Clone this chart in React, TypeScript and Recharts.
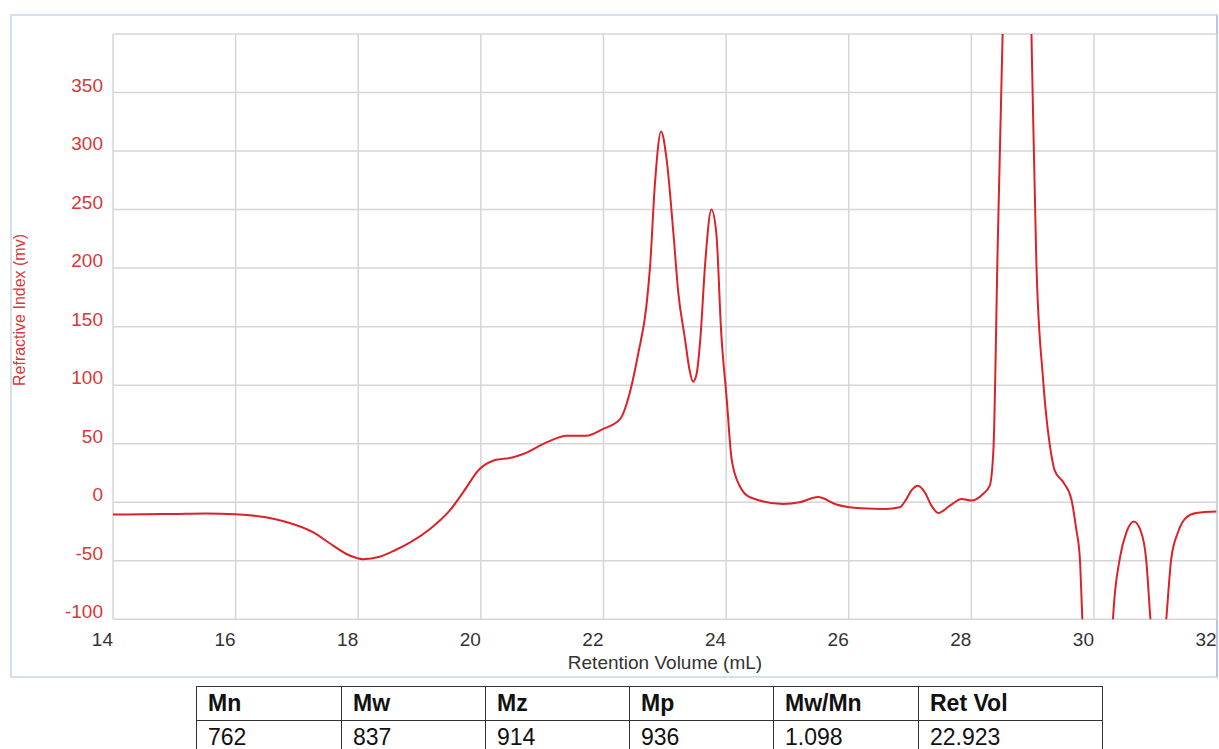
import { LineChart, Line, XAxis, YAxis, CartesianGrid } from 'recharts';

// retention volume (mL) and refractive index (mv)
const retentionVolume = [
  14.0, 14.5, 15.0, 15.5, 16.0, 16.49, 16.8, 17.26, 17.59, 17.86, 18.08, 18.35, 18.6, 18.84,
  19.17, 19.49, 19.71, 19.98, 20.2, 20.53, 20.69, 21.07, 21.4, 21.72, 21.99, 22.27, 22.43,
  22.57, 22.7, 22.76, 22.84, 22.94, 23.03, 23.14, 23.22, 23.33, 23.4, 23.46, 23.52, 23.58,
  23.66, 23.76, 23.84, 23.92, 24.01, 24.09, 24.22, 24.39, 24.93, 25.2, 25.5, 25.8, 26.2, 26.6,
  26.83, 26.94, 27.02, 27.13, 27.24, 27.35, 27.46, 27.65, 27.84, 28.0, 28.19, 28.3, 28.36,
  28.43, 28.51, 28.6, 28.75, 28.9, 28.98, 29.06, 29.17, 29.3, 29.36, 29.5, 29.63, 29.71, 29.77,
  29.81, 29.9, 30.07, 30.25, 30.31, 30.42, 30.53, 30.65, 30.77, 30.85, 30.92, 31.05, 31.18,
  31.26, 31.37, 31.51, 31.67, 32.0,
];
const refractiveIndex = [
  -10.5, -10.3, -10.0, -9.6, -10.3, -12.8, -16.5, -25.6, -37, -45.5, -48.6, -46.5, -41, -34.5,
  -22.8, -7.2, 8.5, 28.4, 35.5, 38.4, 41.2, 51.1, 56.8, 56.8, 62.5, 71, 93.8,
  127.9, 167.6, 201.7, 272.8, 316.8, 292.6, 230.1, 179, 139.2, 114, 103, 110, 140,
  205, 250, 230, 144.9, 88, 36.9, 14.1, 4.3, -1.4, 0, 4.5, -2, -5.2, -5.7,
  -4.3, 2.8, 9.9, 14.1, 8.5, -2.9, -9.1, -2.9, 2.8, 1.4, 7.1, 14.1, 45,
  220, 400, 620, 900, 600, 400, 205, 105, 42, 27, 17, 2.8, -22.8, -48.3,
  -99.5, -200, -260, -200, -99.5, -48.3, -25.6, -16.5, -25.6, -48.3, -99.5, -180, -99.5,
  -48.3, -25.6, -12.8, -9.1, -8,
];

const xTicks = [14, 16, 18, 20, 22, 24, 26, 28, 30, 32];
const yTicks = [-100, -50, 0, 50, 100, 150, 200, 250, 300, 350];
const minorXTicks = Array.from({ length: 91 }, (_, i) => Math.round((14 + i * 0.2) * 10) / 10);
const minorYTicks = Array.from({ length: 50 }, (_, i) => -100 + i * 10);

const tableHeaders = ['Mn', 'Mw', 'Mz', 'Mp', 'Mw/Mn', 'Ret Vol'];
const tableValues = ['762', '837', '914', '936', '1.098', '22.923'];
const columnWidths = [145, 144, 144, 144, 145, 184];

const data = retentionVolume.map((v, i) => ({ v, ri: refractiveIndex[i] }));

const FONT = '"Liberation Sans", Arial, sans-serif';
const RED = '#d93838';

const XTick = ({ x, y, payload }: any) => (
  <text x={x} y={y} dy={19} textAnchor="end" fill="#333" fontSize={19} fontFamily={FONT}>
    {payload.value}
  </text>
);

const YTick = ({ x, y, payload }: any) => (
  <text x={x - 2} y={y} dy={-1} textAnchor="end" fill={RED} fontSize={19} fontFamily={FONT}>
    {payload.value}
  </text>
);

const noTick = () => <g />;

export default function App() {
  return (
    <div style={{ position: 'absolute', left: 0, top: 0, width: 1219, height: 749, background: '#fff' }}>
      <div
        style={{
          position: 'absolute',
          left: 10,
          top: 14,
          width: 1208,
          height: 664,
          boxSizing: 'border-box',
          border: '2px solid #d6e0ec',
          borderRight: '2px solid #b5c3ef',
        }}
      />
      <div style={{ position: 'absolute', left: 0, top: 0 }}>
        <LineChart width={1219} height={680} data={data} margin={{ top: 34, right: 2.4, bottom: 30.7, left: 53 }}>
          <CartesianGrid stroke="#d6d6d6" strokeWidth={1.5} />
          <XAxis
            xAxisId="minor"
            dataKey="v"
            type="number"
            domain={[14, 32]}
            allowDataOverflow
            ticks={minorXTicks}
            interval={0}
            height={0}
            tickSize={3}
            tick={noTick}
            axisLine={false}
            tickLine={{ stroke: '#d0d0d0' }}
          />
          <YAxis
            yAxisId="minor"
            type="number"
            domain={[-100, 400]}
            allowDataOverflow
            ticks={minorYTicks}
            interval={0}
            width={0}
            tickSize={3}
            tick={noTick}
            axisLine={false}
            tickLine={{ stroke: '#d0d0d0' }}
          />
          <XAxis
            dataKey="v"
            type="number"
            domain={[14, 32]}
            allowDataOverflow
            ticks={xTicks}
            interval={0}
            height={30}
            axisLine={false}
            tickLine={false}
            tick={<XTick />}
            label={{
              content: () => (
                <text x={665} y={669} textAnchor="middle" fill="#333" fontSize={19} fontFamily={FONT}>
                  Retention Volume (mL)
                </text>
              ),
            }}
          />
          <YAxis
            type="number"
            domain={[-100, 400]}
            allowDataOverflow
            ticks={yTicks}
            interval={0}
            width={60}
            axisLine={false}
            tickLine={false}
            tick={<YTick />}
            label={{
              content: () => (
                <text
                  x={19}
                  y={310}
                  transform="rotate(-90 19 310)"
                  dy={6}
                  textAnchor="middle"
                  fill={RED}
                  fontSize={16}
                  fontFamily={FONT}
                >
                  Refractive Index (mv)
                </text>
              ),
            }}
          />
          <Line
            type="monotone"
            dataKey="ri"
            stroke="#dc2229"
            strokeWidth={2}
            dot={false}
            activeDot={false}
            isAnimationActive={false}
          />
        </LineChart>
      </div>
      <table
        style={{
          position: 'absolute',
          left: 196,
          top: 686,
          borderCollapse: 'collapse',
          fontFamily: FONT,
          fontSize: 23,
          color: '#111',
          tableLayout: 'fixed',
        }}
      >
        <tbody>
          <tr style={{ height: 34 }}>
            {tableHeaders.map((h, i) => (
              <td
                key={h}
                style={{ width: columnWidths[i], border: '1.5px solid #333', padding: '0 0 0 11px', fontWeight: 'bold', boxSizing: 'border-box' }}
              >
                {h}
              </td>
            ))}
          </tr>
          <tr style={{ height: 34 }}>
            {tableValues.map((v, i) => (
              <td
                key={i}
                style={{ width: columnWidths[i], border: '1.5px solid #333', padding: '0 0 0 11px', boxSizing: 'border-box' }}
              >
                {v}
              </td>
            ))}
          </tr>
        </tbody>
      </table>
    </div>
  );
}
